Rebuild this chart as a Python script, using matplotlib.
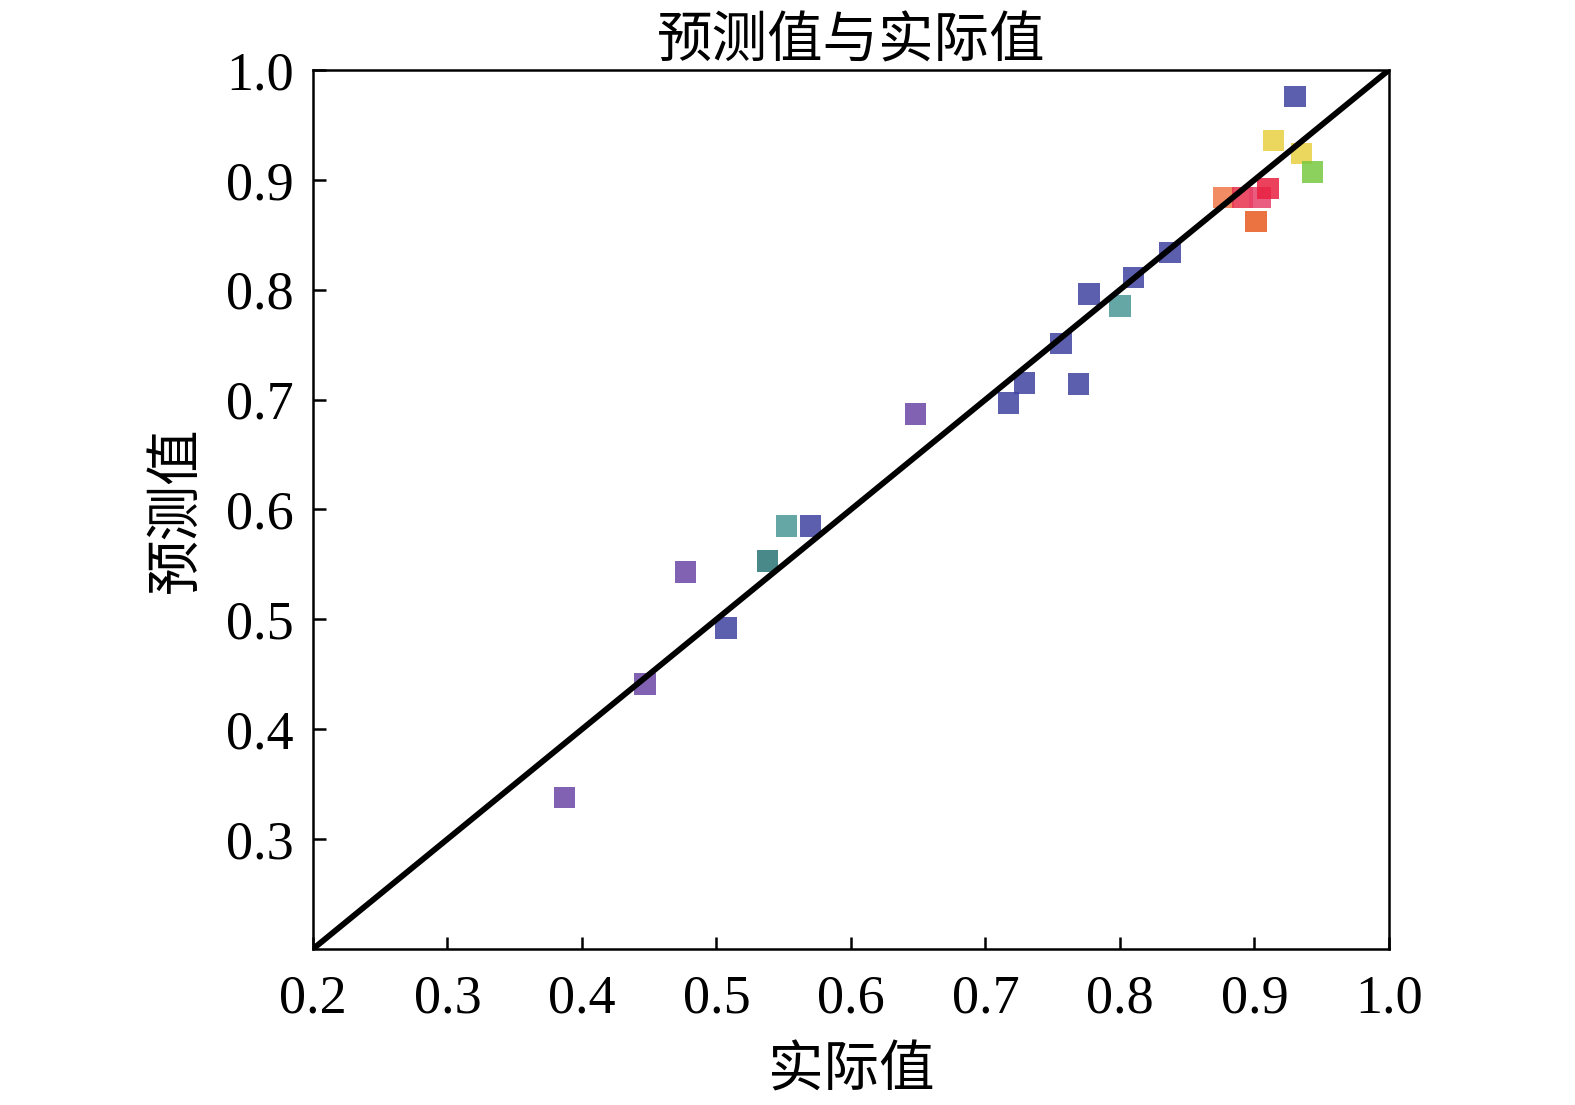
import matplotlib
matplotlib.use("Agg")
import matplotlib.pyplot as plt
import numpy as np

plt.rcParams['font.family'] = ['Liberation Serif', 'Noto Sans CJK SC']

# actual vs predicted values
actual = [0.387, 0.447, 0.477, 0.507, 0.538, 0.552, 0.570, 0.648,
          0.717, 0.729, 0.756, 0.769, 0.777, 0.800, 0.810, 0.837,
          0.877, 0.891, 0.904, 0.910, 0.901, 0.914, 0.935, 0.943, 0.930]
predicted = [0.338, 0.441, 0.543, 0.492, 0.553, 0.585, 0.585, 0.687,
             0.697, 0.715, 0.751, 0.714, 0.796, 0.785, 0.811, 0.834,
             0.884, 0.884, 0.884, 0.892, 0.862, 0.936, 0.924, 0.907, 0.976]
colors = ['#6a45a5', '#6a45a5', '#6a45a5', '#3e43a0', '#2a7474', '#4a9896',
          '#3e43a0', '#6a45a5', '#3e43a0', '#3e43a0', '#3e43a0', '#3e43a0',
          '#3e43a0', '#4a9896', '#3e43a0', '#3e43a0', '#f0784a', '#e8304e',
          '#e8406a', '#e82040', '#e85a20', '#e8d040', '#e8d040', '#78c840',
          '#3e43a0']

fig = plt.figure(figsize=(15.75, 11.05), dpi=100)
ax = fig.add_axes([0.1987, 0.1412, 0.6832, 0.7955])

ax.scatter(actual, predicted, marker='s', s=240, c=colors, alpha=0.85,
           linewidths=0, zorder=2)
ax.plot([0.2, 1.0], [0.2, 1.0], color='black', lw=4.2, zorder=3)

ax.set_xlim(0.2, 1.0)
ax.set_ylim(0.2, 1.0)
ax.set_xticks(np.arange(0.2, 1.01, 0.1))
ax.set_yticks(np.arange(0.3, 1.01, 0.1))
ax.xaxis.set_major_formatter(matplotlib.ticker.FormatStrFormatter('%.1f'))
ax.yaxis.set_major_formatter(matplotlib.ticker.FormatStrFormatter('%.1f'))
ax.tick_params(direction='in', length=9, width=1.8, labelsize=39)
ax.tick_params(axis='x', pad=18)
ax.tick_params(axis='y', pad=14)
for sp in ax.spines.values():
    sp.set_linewidth(1.8)

ax.set_title('预测值与实际值', fontsize=40, pad=9)
ax.set_xlabel('实际值', fontsize=40, labelpad=16)
ax.set_ylabel('预测值', fontsize=40, labelpad=16)

fig.savefig('out.png', dpi=100)
